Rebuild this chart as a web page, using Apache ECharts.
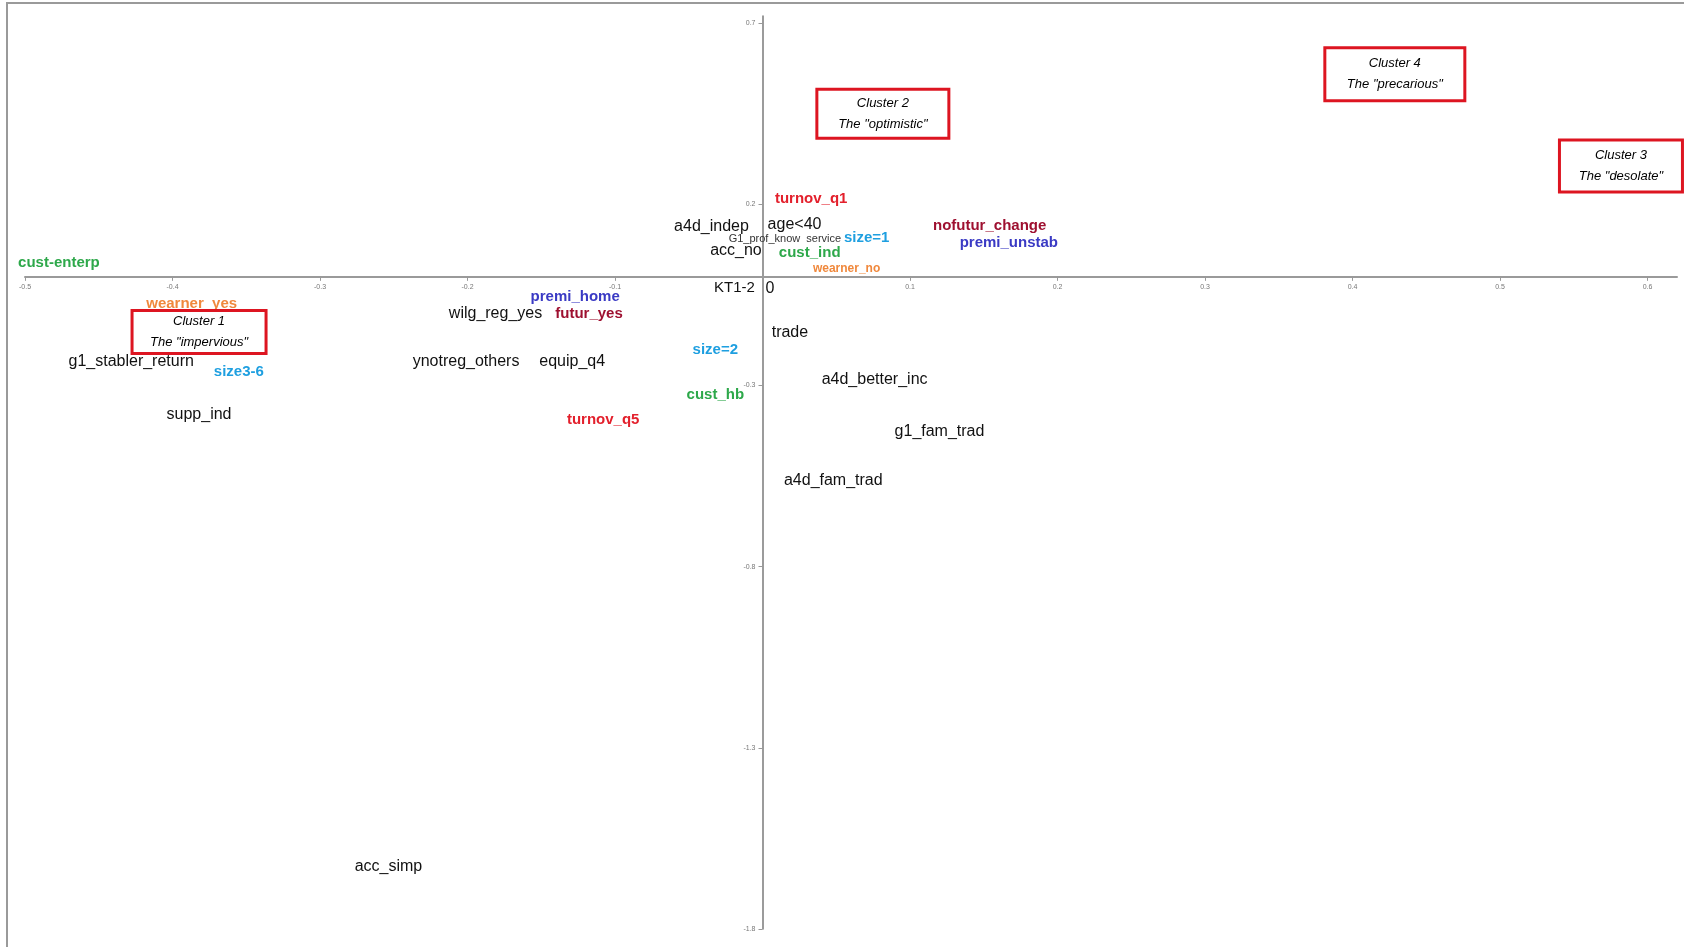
<!DOCTYPE html>
<html>
<head>
<meta charset="utf-8">
<script src="https://cdn.jsdelivr.net/npm/echarts@6/dist/echarts.min.js"></script>
<style>
html,body{margin:0;padding:0;background:#fff;}
#chart{width:1684px;height:947px;}
</style>
</head>
<body>
<div id="chart"></div>
<script>
// ---- data (name, dim1, dim2) ----
const blackPoints = [
  ['g1_stabler_return', -0.428, -0.234],
  ['supp_ind', -0.382, -0.380],
  ['wilg_reg_yes', -0.181, -0.102],
  ['ynotreg_others', -0.201, -0.234],
  ['equip_q4', -0.129, -0.234],
  ['KT1-2', -0.019, -0.030],
  ['0', 0.005, -0.032],
  ['a4d_indep', -0.0346, 0.140],
  ['acc_no', -0.018, 0.072],
  ['age<40', 0.0217, 0.143],
  ['G1_prof_know  service', 0.0152, 0.105],
  ['trade', 0.0186, -0.155],
  ['a4d_better_inc', 0.076, -0.284],
  ['g1_fam_trad', 0.120, -0.427],
  ['a4d_fam_trad', 0.048, -0.563],
  ['acc_simp', -0.2536, -1.627]
];
const greenPoints = [
  ['cust-enterp', -0.477, 0.038],
  ['cust_hb', -0.032, -0.326],
  ['cust_ind', 0.032, 0.065]
];
const orangePoints = [
  ['wearner_yes', -0.387, -0.075],
  ['wearner_no', 0.057, 0.022]
];
const bluePoints = [
  ['size3-6', -0.355, -0.261],
  ['size=2', -0.032, -0.202],
  ['size=1', 0.0706, 0.109]
];
const redPoints = [
  ['turnov_q5', -0.108, -0.395],
  ['turnov_q1', 0.033, 0.215]
];
const darkRedPoints = [
  ['futur_yes', -0.1176, -0.102],
  ['nofutur_change', 0.154, 0.142]
];
const purplePoints = [
  ['premi_home', -0.127, -0.056],
  ['premi_unstab', 0.167, 0.094]
];
const clusterNames = ['Cluster 1', 'Cluster 2', 'Cluster 4', 'Cluster 3'];
const clusterTitles = ['The "impervious"', 'The "optimistic"', 'The "precarious"', 'The "desolate"'];
const clusterX = [-0.382, 0.0816, 0.4287, 0.582];
const clusterY = [-0.152, 0.450, 0.559, 0.306];
const xTicks = [-0.5, -0.4, -0.3, -0.2, -0.1, 0.1, 0.2, 0.3, 0.4, 0.5, 0.6];
const yTicks = [-1.8, -1.3, -0.8, -0.3, 0.2, 0.7];

// ---- styles ----
const FONT = 'Liberation Sans';
const GRID = { left: 25, right: 7, top: 16, bottom: 18 };
const labelSizeOverride = { 'KT1-2': 15, 'G1_prof_know  service': 11, 'wearner_no': 12 };
const labelColorOverride = { 'G1_prof_know  service': '#333' };
const boxSizes = [[131, 40], [129, 46], [137, 50], [120, 49]];

function textSeries(points, color, size, weight) {
  return {
    type: 'scatter',
    symbolSize: 0,
    silent: true,
    z: 3,
    itemStyle: { opacity: 1 },
    data: points.map(p => {
      const item = { name: p[0], value: [p[1], p[2]] };
      if (labelSizeOverride[p[0]] || labelColorOverride[p[0]]) {
        item.label = {};
        if (labelSizeOverride[p[0]]) item.label.fontSize = labelSizeOverride[p[0]];
        if (labelColorOverride[p[0]]) item.label.color = labelColorOverride[p[0]];
      }
      return item;
    }),
    label: {
      show: true,
      position: 'inside',
      formatter: p => p.name,
      color: color,
      fontSize: size,
      fontWeight: weight,
      fontFamily: FONT,
      textBorderWidth: 0
    }
  };
}

const clusterSeries = {
  type: 'scatter',
  symbolSize: 0,
  silent: true,
  z: 4,
  itemStyle: { opacity: 1 },
  data: clusterNames.map((n, i) => ({
    name: n + '\n' + clusterTitles[i],
    value: [clusterX[i], clusterY[i]],
    label: { width: boxSizes[i][0], height: boxSizes[i][1] }
  })),
  label: {
    show: true,
    position: 'inside',
    formatter: p => p.name,
    color: '#000',
    fontSize: 13,
    fontStyle: 'italic',
    fontFamily: FONT,
    lineHeight: 21,
    align: 'center',
    verticalAlign: 'middle',
    backgroundColor: '#fff',
    borderColor: '#dd1521',
    borderWidth: 3,
    padding: 0,
    textBorderWidth: 0
  }
};

const axisCommon = {
  type: 'value',
  splitLine: { show: false }
};

const chart = echarts.init(document.getElementById('chart'), null, { renderer: 'canvas' });
const option = {
  animation: false,
  backgroundColor: '#fff',
  grid: Object.assign({ containLabel: false, outerBoundsMode: 'none' }, GRID),
  xAxis: Object.assign({}, axisCommon, {
    min: -0.5,
    max: 0.62,
    offset: 0,
    axisLine: { onZero: false, lineStyle: { color: '#9a9a9a', width: 2 } },
    axisTick: { show: true, length: 4, customValues: xTicks, lineStyle: { color: '#999' } },
    axisLabel: { customValues: xTicks, fontSize: 7, color: '#777', margin: 7, fontFamily: FONT,
      formatter: v => Number(v).toFixed(1) }
  }),
  yAxis: Object.assign({}, axisCommon, {
    min: -1.8,
    max: 0.72,
    offset: 0,
    axisLine: { onZero: false, lineStyle: { color: '#7a7a7a', width: 1.5 } },
    axisTick: { show: true, length: 4, customValues: yTicks, lineStyle: { color: '#999' } },
    axisLabel: { customValues: yTicks, fontSize: 7, color: '#777', margin: 7, fontFamily: FONT,
      formatter: v => Number(v).toFixed(1) }
  }),
  graphic: [{
    type: 'rect',
    shape: { x: 7, y: 3, width: 1700, height: 960 },
    style: { fill: 'none', stroke: '#9a9a9a', lineWidth: 2 },
    z: 0
  }],
  series: [
    textSeries(blackPoints, '#111', 16, 'normal'),
    textSeries(greenPoints, '#2da84a', 15, 'bold'),
    textSeries(orangePoints, '#f0883c', 15, 'bold'),
    textSeries(bluePoints, '#1e9fe0', 15, 'bold'),
    textSeries(redPoints, '#e3202c', 15, 'bold'),
    textSeries(darkRedPoints, '#9e1030', 15, 'bold'),
    textSeries(purplePoints, '#3a3ac4', 15, 'bold'),
    clusterSeries
  ]
};
chart.setOption(option);
// move the axes (line, ticks, labels) so they cross at the origin
const origin = chart.convertToPixel({ gridIndex: 0 }, [0, 0]);
const H = chart.getHeight();
chart.setOption({
  xAxis: { offset: origin[1] - (H - GRID.bottom) },
  yAxis: { offset: GRID.left - origin[0] }
});
</script>
</body>
</html>
